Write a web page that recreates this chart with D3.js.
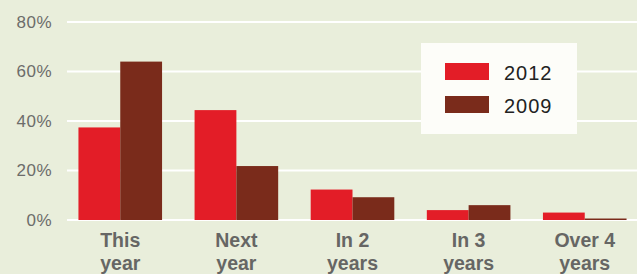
<!DOCTYPE html>
<html>
<head>
<meta charset="utf-8">
<script src="https://cdn.jsdelivr.net/npm/d3@7"></script>
<style>
	html, body { margin: 0; padding: 0; background: #e9eedb; }
	svg { display: block; }
</style>
</head>
<body>
<div id="chart"></div>
<script>
const width = 637
const height = 274

// values (percent)
const categories = [['This', 'year'], ['Next', 'year'], ['In 2', 'years'], ['In 3', 'years'], ['Over 4', 'years']]
const series = ['2012', '2009']
const values2012 = [37.4, 44.4, 12.3, 4, 3]
const values2009 = [64, 21.8, 9.2, 6, 0.6]
const yTicks = [0, 20, 40, 60, 80]

const colors = { '2012': '#e31d27', '2009': '#7a2b1b' }

const svg = d3.select('#chart').append('svg').attr('width', width).attr('height', height)

svg.append('rect').attr('width', width).attr('height', height).attr('fill', '#e9eedb')

const y = d3.scaleLinear().domain([0, 80]).range([220, 22])

const x = d3
	.scaleBand()
	.domain(categories.map((d) => d.join(' ')))
	.range([68, 637])
	.paddingInner(0.28)
	.paddingOuter(0.09)

const xSub = d3.scaleBand().domain(series).range([0, x.bandwidth()])

// gridlines
svg
	.append('g')
	.selectAll('line')
	.data(yTicks)
	.enter()
	.append('line')
	.attr('x1', 67)
	.attr('x2', width)
	.attr('y1', (d) => y(d))
	.attr('y2', (d) => y(d))
	.attr('stroke', '#ffffff')
	.attr('stroke-width', 2)

// y labels
const yAxis = svg
	.append('g')
	.attr('transform', 'translate(52,0)')
	.call(d3.axisLeft(y).tickValues(yTicks).tickSize(0).tickPadding(0).tickFormat((d) => d + '%'))
yAxis.select('.domain').remove()
yAxis
	.selectAll('text')
	.attr('font-family', 'Liberation Sans, Arial, sans-serif')
	.attr('font-size', 17)
	.attr('letter-spacing', 0.5)
	.attr('fill', '#6c6c6a')

// bars
const rows = categories.map((c, i) => ({ key: c.join(' '), vals: [values2012[i], values2009[i]] }))

const group = svg
	.append('g')
	.selectAll('g')
	.data(rows)
	.enter()
	.append('g')
	.attr('transform', (d) => 'translate(' + x(d.key) + ',0)')

group
	.selectAll('rect')
	.data((d) => d.vals.map((v, i) => ({ s: series[i], v: v })))
	.enter()
	.append('rect')
	.attr('x', (d) => xSub(d.s))
	.attr('width', xSub.bandwidth())
	.attr('y', (d) => y(d.v))
	.attr('height', (d) => y(0) - y(d.v))
	.attr('fill', (d) => colors[d.s])

// category labels
svg
	.append('g')
	.selectAll('text')
	.data(categories)
	.enter()
	.append('text')
	.attr('x', (d) => x(d.join(' ')) + x.bandwidth() / 2)
	.attr('y', 247)
	.attr('text-anchor', 'middle')
	.attr('font-family', 'Liberation Sans, Arial, sans-serif')
	.attr('font-weight', 'bold')
	.attr('font-size', 19.5)
	.attr('fill', '#666664')
	.selectAll('tspan')
	.data((d) => d)
	.enter()
	.append('tspan')
	.attr('x', function () {
		return d3.select(this.parentNode).attr('x')
	})
	.attr('dy', (_d, i) => (i === 0 ? 0 : 23))
	.text((d) => d)

// legend
const legend = svg.append('g').attr('transform', 'translate(421,43)')
legend.append('rect').attr('width', 156).attr('height', 91).attr('fill', '#fdfdf9')

const item = legend
	.selectAll('g')
	.data(series)
	.enter()
	.append('g')
	.attr('transform', (_d, i) => 'translate(24,' + (20 + i * 33) + ')')

item.append('rect').attr('width', 44).attr('height', 17).attr('fill', (d) => colors[d])

item
	.append('text')
	.attr('x', 59)
	.attr('y', 17)
	.attr('font-family', 'Liberation Sans, Arial, sans-serif')
	.attr('font-size', 20)
	.attr('letter-spacing', 1)
	.attr('fill', '#222')
	.text((d) => d)
</script>
</body>
</html>
